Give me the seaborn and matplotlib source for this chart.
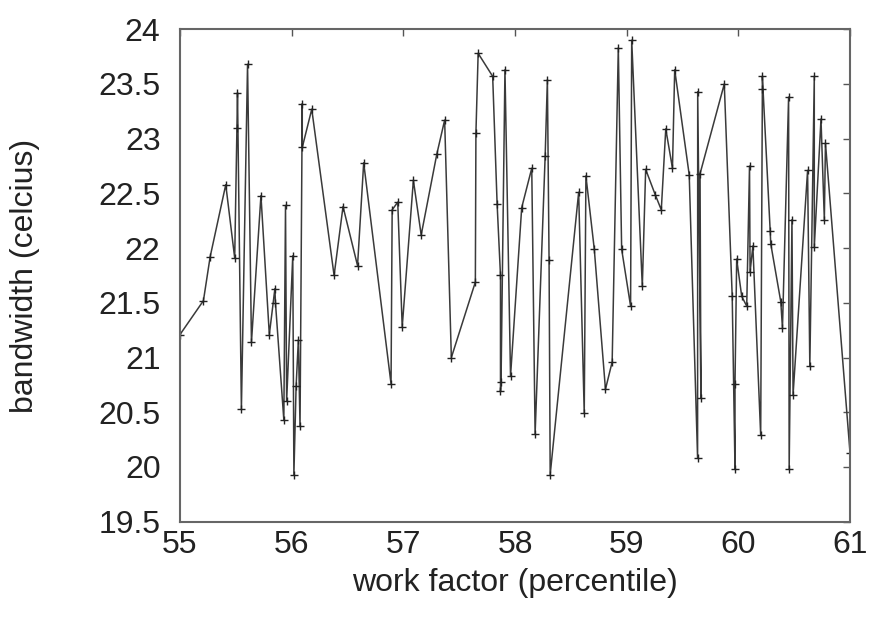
import matplotlib
matplotlib.use("Agg")
import matplotlib.pyplot as plt
import seaborn as sns

# -------------------------------
# Data
# -------------------------------
work_factor = [
    55.00, 55.21, 55.27, 55.41, 55.49, 55.51, 55.515, 55.55, 55.605, 55.64,
    55.725, 55.80, 55.85, 55.855, 55.93, 55.945, 55.955, 56.01, 56.02, 56.04,
    56.06, 56.075, 56.095, 56.095, 56.18, 56.38, 56.46, 56.59, 56.645, 56.89,
    56.90, 56.95, 56.99, 57.09, 57.16, 57.30, 57.37, 57.43, 57.645, 57.65,
    57.67, 57.80, 57.84, 57.87, 57.87, 57.875, 57.91, 57.96, 58.06, 58.15,
    58.18, 58.27, 58.29, 58.305, 58.315, 58.57, 58.62, 58.635, 58.71, 58.81,
    58.87, 58.925, 58.955, 59.035, 59.045, 59.14, 59.17, 59.255, 59.31, 59.35,
    59.41, 59.43, 59.56, 59.635, 59.636, 59.665, 59.657, 59.874, 59.945, 59.97,
    59.97, 59.985, 60.03, 60.075, 60.10, 60.105, 60.13, 60.20, 60.215, 60.215,
    60.285, 60.29, 60.38, 60.395, 60.45, 60.455, 60.48, 60.49, 60.62, 60.64,
    60.68, 60.68, 60.74, 60.77, 60.78, 61.00,
]
bandwidth = [
    21.21, 21.52, 21.92, 22.58, 21.91, 23.10, 23.42, 20.53, 23.68, 21.14,
    22.48, 21.21, 21.63, 21.50, 20.43, 22.39, 20.60, 21.93, 19.93, 20.74,
    21.16, 20.37, 23.32, 22.92, 23.27, 21.75, 22.38, 21.84, 22.78, 20.76,
    22.35, 22.42, 21.28, 22.62, 22.12, 22.86, 23.17, 21.00, 21.69, 23.05,
    23.78, 23.57, 22.40, 21.75, 20.69, 20.78, 23.63, 20.83, 22.37, 22.73,
    20.30, 22.84, 23.54, 21.89, 19.93, 22.51, 20.49, 22.66, 21.99, 20.71,
    20.96, 23.83, 21.99, 21.47, 23.90, 21.65, 22.72, 22.49, 22.35, 23.09,
    22.73, 23.63, 22.67, 20.08, 23.43, 20.63, 22.68, 23.50, 21.56, 19.98,
    20.76, 21.90, 21.56, 21.47, 22.75, 21.78, 22.02, 20.29, 23.45, 23.57,
    22.16, 22.04, 21.51, 21.27, 23.38, 19.98, 22.26, 20.66, 22.71, 20.92,
    23.57, 22.01, 23.18, 22.26, 22.96, 20.13,
]

x_ticks = [55, 56, 57, 58, 59, 60, 61]
y_ticks = [19.5, 20, 20.5, 21, 21.5, 22, 22.5, 23, 23.5, 24]

# -------------------------------
# Style
# -------------------------------
sns.set_style("white")
plt.rcParams['font.family'] = ['Liberation Sans', 'DejaVu Sans']

fig = plt.figure(figsize=(8.72, 6.19), dpi=100)
ax = fig.add_axes([0.2064, 0.1572, 0.7684, 0.7955])

sns.lineplot(
    x=work_factor, y=bandwidth, ax=ax,
    sort=False, estimator=None,
    color="#3a3a3a", linewidth=1.1,
    marker="+", markersize=6, markeredgewidth=1.0,
    markeredgecolor="#222222",
)

ax.set_xlim(55, 61)
ax.set_ylim(19.5, 24)
ax.set_xticks(x_ticks)
ax.set_xticklabels([f"{t:g}" for t in x_ticks])
ax.set_yticks(y_ticks)
ax.set_yticklabels([f"{t:g}" for t in y_ticks])

ax.tick_params(direction="in", length=5, width=1, color="#555555",
               top=True, right=True, labelsize=23, labelcolor="#222222")
ax.tick_params(axis="x", pad=6)
ax.tick_params(axis="y", pad=14)
for s in ax.spines.values():
    s.set_color("#666666")
    s.set_linewidth(1.5)

ax.set_xlabel("work factor (percentile)", fontsize=23, color="#222222")
ax.set_ylabel("bandwidth (celcius)", fontsize=23, color="#222222")
ax.xaxis.set_label_coords(0.5, -0.095)
ax.yaxis.set_label_coords(-0.209, 0.5)

fig.savefig("out.png", dpi=100)
